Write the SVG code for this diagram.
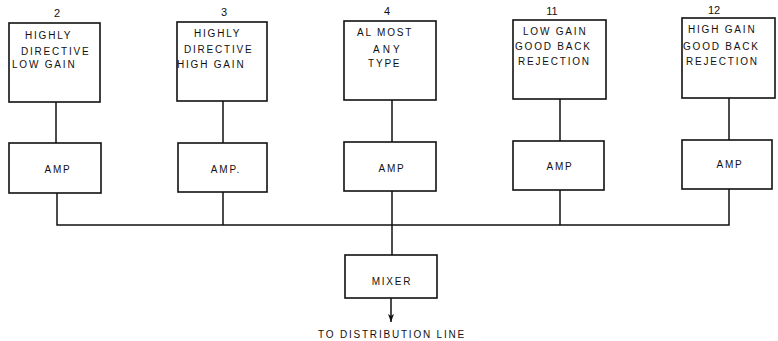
<svg xmlns="http://www.w3.org/2000/svg" width="778" height="341" viewBox="0 0 778 341">
<defs>
<style>
.box{fill:#fff;stroke:#111;stroke-width:1.6}
.ln{fill:none;stroke:#111;stroke-width:1.5}
text{font-family:"Liberation Sans",Arial,sans-serif;font-size:10px;fill:#111;letter-spacing:1.8px}
.n{font-size:11px;letter-spacing:0}
.c{text-anchor:middle}
</style>
<marker id="arr" markerWidth="9" markerHeight="8" refX="8" refY="4" orient="auto" markerUnits="userSpaceOnUse" viewBox="0 0 9 8">
<path d="M0,1 L8,4 L0,7 L2,4 Z" fill="#111"/>
</marker>
</defs>
<rect width="778" height="341" fill="#fff"/>
<g id="connectors">
<path class="ln" d="M56,102 V143"/>
<path class="ln" d="M223,101 V143"/>
<path class="ln" d="M392,100 V142"/>
<path class="ln" d="M560,99 V141"/>
<path class="ln" d="M729,98 V140"/>
<path class="ln" d="M57,193 V225 H729 V189"/>
<path class="ln" d="M223,192 V225"/>
<path class="ln" d="M392,191 V255"/>
<path class="ln" d="M560,190 V225"/>
<path class="ln" d="M391,298 V322" marker-end="url(#arr)"/>
</g>
<g id="ant2">
<text class="n c" x="57" y="17">2</text>
<rect class="box" x="9" y="23" width="91" height="79"/>
<text x="25" y="39">HIGHLY</text>
<text x="21" y="55">DIRECTIVE</text>
<text x="12" y="68">LOW  GAIN</text>
</g>
<g id="ant3">
<text class="n c" x="224" y="16">3</text>
<rect class="box" x="177" y="22" width="90" height="79"/>
<text x="194" y="37">HIGHLY</text>
<text x="184" y="53">DIRECTIVE</text>
<text x="177" y="68">HIGH GAIN</text>
</g>
<g id="ant4">
<text class="n c" x="387" y="15">4</text>
<rect class="box" x="344" y="21" width="92" height="79"/>
<text x="357" y="36">AL MOST</text>
<text x="373" y="53" style="letter-spacing:3px">ANY</text>
<text x="368" y="67">TYPE</text>
</g>
<g id="ant11">
<text class="n c" x="552" y="15">11</text>
<rect class="box" x="513" y="20" width="93" height="79"/>
<text x="523" y="35">LOW GAIN</text>
<text x="515" y="50">GOOD BACK</text>
<text x="518" y="65">REJECTION</text>
</g>
<g id="ant12">
<text class="n c" x="714" y="14">12</text>
<rect class="box" x="682" y="18" width="93" height="80"/>
<text x="688" y="33">HIGH GAIN</text>
<text x="683" y="50">GOOD  BACK</text>
<text x="686" y="65">REJECTION</text>
</g>
<g id="amp1">
<rect class="box" x="9" y="143" width="92" height="50"/>
<text class="c" x="58" y="173">AMP</text>
</g>
<g id="amp2">
<rect class="box" x="178" y="143" width="89" height="49"/>
<text class="c" x="226" y="173">AMP.</text>
</g>
<g id="amp3">
<rect class="box" x="344" y="142" width="92" height="49"/>
<text class="c" x="392" y="172">AMP</text>
</g>
<g id="amp4">
<rect class="box" x="513" y="141" width="91" height="49"/>
<text class="c" x="560" y="170">AMP</text>
</g>
<g id="amp5">
<rect class="box" x="682" y="140" width="90" height="49"/>
<text class="c" x="730" y="168">AMP</text>
</g>
<g id="mixer">
<rect class="box" x="345" y="255" width="92" height="43"/>
<text class="c" x="392" y="285">MIXER</text>
</g>
<g id="output">
<text x="318" y="338">TO DISTRIBUTION LINE</text>
</g>
</svg>
